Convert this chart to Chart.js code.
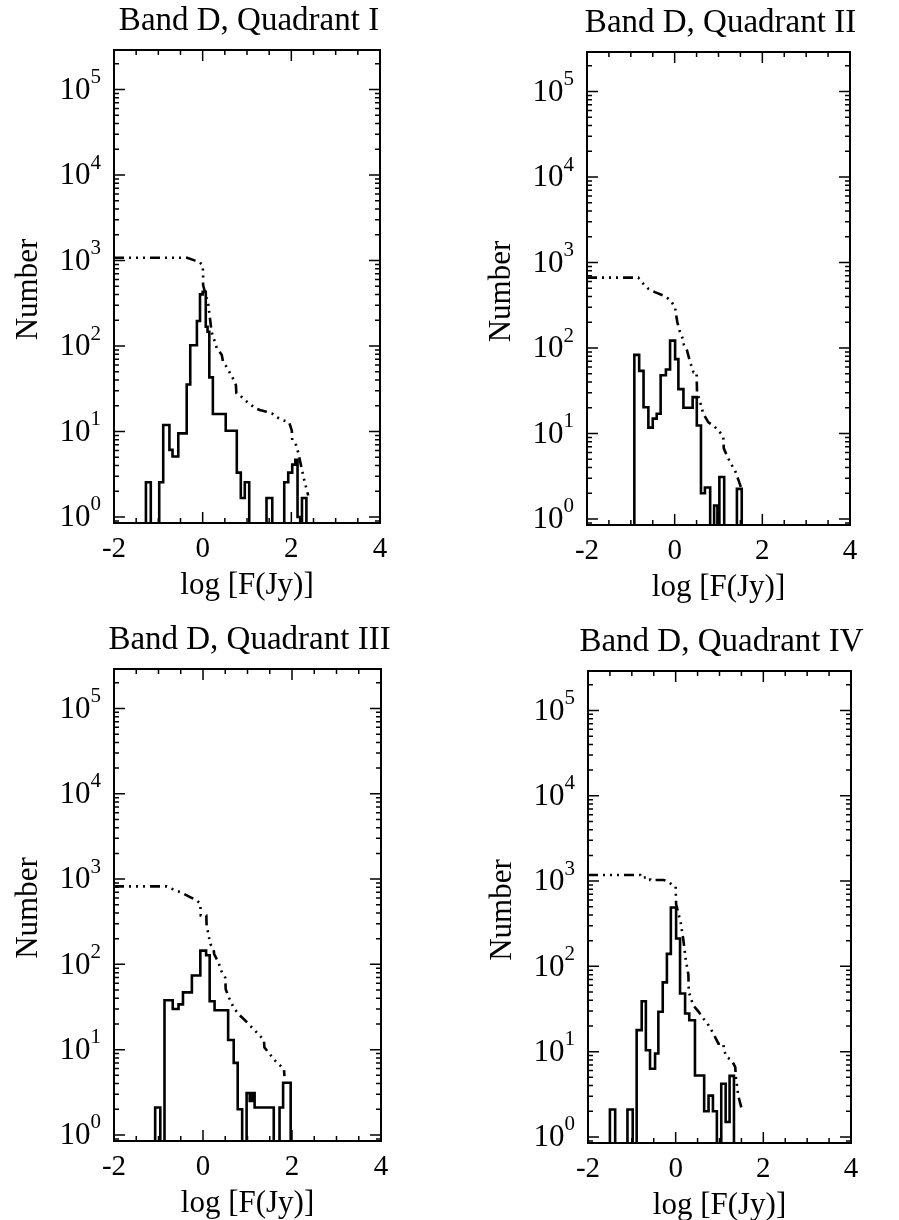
<!DOCTYPE html>
<html lang="en">
<head>
<meta charset="UTF-8" />
<title>Band D quadrants</title>
<script src="https://cdn.jsdelivr.net/npm/chart.js"></script>
<style>
  body { margin: 0; background: #fff; }
  #page { position: relative; width: 899px; height: 1220px; }
  #page canvas { position: absolute; left: 0; top: 0; }
</style>
</head>
<body>
<div id="page">
  <canvas id="q1" width="899" height="1220"></canvas>
  <canvas id="q2" width="899" height="1220"></canvas>
  <canvas id="q3" width="899" height="1220"></canvas>
  <canvas id="q4" width="899" height="1220"></canvas>
</div>

<script>
// empty bins: below the axis floor, so the step falls onto the frame
var EMPTY = 0.5;

var xTickLabels = [-2, 0, 2, 4];
var yDecades = [0, 1, 2, 3, 4, 5];
var titles = ["Band D, Quadrant I", "Band D, Quadrant II", "Band D, Quadrant III", "Band D, Quadrant IV"];

// Quadrant I
var q1BinX = [-2.0, -1.28, -1.17, -0.98, -0.89, -0.75, -0.68, -0.55, -0.36, -0.28, -0.13, -0.06, 0.0, 0.07, 0.11, 0.15, 0.23, 0.52, 0.77, 0.86, 0.95, 1.05, 1.44, 1.57, 1.84, 1.93, 2.02, 2.09, 2.14, 2.20, 2.24, 2.34, 4.0];
var q1Count = [EMPTY, 2.55, EMPTY, 2.55, 11.9, 6.1, 5.1, 9.5, 35.5, 102, 196, 402, 430, 168, 147, 43, 16, 10.2, 3.3, 1.67, 2.55, EMPTY, 1.67, EMPTY, 2.55, 3.3, 4.1, 4.66, 1.0, EMPTY, 1.67, EMPTY, EMPTY];
var q1CumX = [-2.0, -0.35, -0.2, -0.08, 0.0, 0.01, 0.01, 0.13, 0.2, 0.26, 0.32, 0.43, 0.46, 0.54, 0.62, 0.68, 0.75, 0.76, 0.84, 0.95, 1.07, 1.18, 1.29, 1.44, 1.56, 1.67, 1.82, 1.95, 2.01, 2.02, 2.11, 2.16, 2.27, 2.35, 2.38];
var q1Cum = [1075, 1075, 1010, 965, 882, 705, 515, 300, 147, 118, 94, 79, 65, 57, 48, 42, 35, 28, 26.6, 23.3, 20.9, 18.8, 17.8, 17, 16.3, 14.7, 13.5, 12.8, 10.3, 7.9, 6.9, 5.55, 3.0, 2.06, 1.78];

// Quadrant II
var q2BinX = [-2.0, -0.92, -0.81, -0.71, -0.60, -0.50, -0.41, -0.32, -0.20, -0.105, 0.01, 0.085, 0.20, 0.41, 0.505, 0.60, 0.69, 0.81, 0.90, 0.975, 1.02, 1.13, 1.42, 1.53, 4.0];
var q2Count = [EMPTY, 83, 54, 20.3, 11.7, 14.9, 17, 48, 56, 122, 74, 33, 20, 26.6, 12.4, 2.0, 2.33, EMPTY, 1.44, EMPTY, 3.1, EMPTY, 2.25, EMPTY, EMPTY];
var q2CumX = [-2.0, -0.83, -0.75, -0.60, -0.45, -0.26, -0.14, -0.07, 0.01, 0.03, 0.06, 0.11, 0.20, 0.21, 0.28, 0.35, 0.43, 0.50, 0.51, 0.58, 0.655, 0.77, 0.88, 1.0, 1.11, 1.12, 1.19, 1.26, 1.38, 1.45, 1.53];
var q2Cum = [666, 666, 590, 493, 450, 412, 376, 344, 300, 251, 201, 160, 123, 108, 94, 69, 52, 52, 30.5, 23.3, 16.9, 13.5, 12.4, 10.9, 9.1, 6.7, 5.55, 4.66, 3.66, 2.9, 2.2];

// Quadrant III
var q3BinX = [-2.0, -1.075, -0.96, -0.865, -0.68, -0.55, -0.45, -0.25, -0.06, 0.07, 0.15, 0.26, 0.565, 0.69, 0.78, 0.88, 0.98, 1.05, 1.105, 1.16, 1.59, 1.72, 1.80, 1.97, 4.0];
var q3Count = [EMPTY, 2.1, EMPTY, 38, 30, 34, 47, 74, 145, 128, 37, 29, 13, 7.0, 2.0, EMPTY, 3.1, 2.5, 3.1, 2.1, EMPTY, 2.1, 4.1, EMPTY, EMPTY];
var q3CumX = [-2.0, -0.81, -0.70, -0.51, -0.29, -0.135, -0.06, -0.05, 0.075, 0.08, 0.105, 0.165, 0.24, 0.25, 0.35, 0.41, 0.50, 0.51, 0.58, 0.69, 0.80, 0.92, 1.03, 1.14, 1.255, 1.37, 1.38, 1.48, 1.59, 1.71, 1.82, 1.83];
var q3Cum = [820, 820, 769, 703, 614, 561, 512, 374, 374, 295, 249, 173, 151, 132, 105, 84, 70, 51, 41, 31, 26, 22.7, 19.9, 17.3, 15.1, 12.8, 10.6, 9.2, 7.7, 6.7, 5.9, 4.9];

// Quadrant IV
var q4BinX = [-2.0, -1.50, -1.38, -1.10, -0.98, -0.89, -0.775, -0.68, -0.585, -0.47, -0.395, -0.295, -0.20, -0.11, 0.01, 0.10, 0.215, 0.31, 0.44, 0.65, 0.75, 0.85, 0.94, 1.04, 1.14, 1.23, 1.33, 4.0];
var q4Count = [EMPTY, 2.1, EMPTY, 2.1, EMPTY, 17.9, 39, 10.4, 6.3, 9.5, 29.4, 65, 140, 490, 212, 48, 28, 23.4, 5.25, 2.0, 3.05, 2.0, EMPTY, 4.2, 1.5, 5.2, EMPTY, EMPTY];
var q4CumX = [-2.0, -0.81, -0.80, -0.585, -0.58, -0.28, -0.20, -0.09, 0.0, 0.01, 0.115, 0.175, 0.23, 0.29, 0.30, 0.40, 0.52, 0.63, 0.75, 0.86, 0.975, 1.09, 1.10, 1.17, 1.28, 1.36, 1.37, 1.43, 1.51];
var q4Cum = [1180, 1180, 1100, 1100, 1030, 1030, 1000, 915, 860, 535, 325, 205, 120, 80, 50, 35, 29.5, 24.5, 20.4, 16.3, 12.4, 12.4, 10.4, 8.6, 7.9, 6.6, 5.2, 3.0, 2.1];

var SERIF = '"Liberation Serif", "DejaVu Serif", serif';

function pts(xs, ys) {
  return xs.map(function (x, i) { return { x: x, y: ys[i] }; });
}

// frame, inward ticks and all the labels, IDL style
var idlFrame = {
  id: "idlFrame",
  afterDatasetsDraw: function (chart, args, opts) {
    var ctx = chart.ctx, a = chart.chartArea;
    var xs = chart.scales.x, ys = chart.scales.y;
    ctx.save();
    ctx.strokeStyle = "#000";
    ctx.fillStyle = "#000";

    ctx.lineWidth = 1.5;
    ctx.beginPath();
    for (var v = -2; v <= 4.001; v += 0.5) {
      var px = xs.getPixelForValue(v);
      var len = xTickLabels.indexOf(v) >= 0 ? 11 : 5;
      ctx.moveTo(px, a.bottom); ctx.lineTo(px, a.bottom - len);
      ctx.moveTo(px, a.top); ctx.lineTo(px, a.top + len);
    }
    for (var d = -1; d <= 5; d++) {
      for (var m = 1; m <= 9; m++) {
        var val = m * Math.pow(10, d);
        if (val < ys.min || val > ys.max) continue;
        var py = ys.getPixelForValue(val);
        var l = m === 1 ? 11 : 5;
        ctx.moveTo(a.left, py); ctx.lineTo(a.left + l, py);
        ctx.moveTo(a.right, py); ctx.lineTo(a.right - l, py);
      }
    }
    ctx.stroke();

    ctx.lineWidth = 2;
    ctx.strokeRect(a.left, a.top, a.right - a.left, a.bottom - a.top);

    // x tick labels
    ctx.font = "29px " + SERIF;
    ctx.textAlign = "center";
    ctx.textBaseline = "middle";
    xTickLabels.forEach(function (t) {
      ctx.fillText(String(t), xs.getPixelForValue(t), a.bottom + 26);
    });

    // y tick labels 10^n
    yDecades.forEach(function (n) {
      var py = ys.getPixelForValue(Math.pow(10, n));
      var right = a.left - 13;
      ctx.font = "21px " + SERIF;
      var ew = ctx.measureText(String(n)).width;
      ctx.textAlign = "left";
      ctx.fillText(String(n), right - ew, py - 12);
      ctx.font = "31px " + SERIF;
      ctx.textAlign = "right";
      ctx.fillText("10", right - ew, py + 1);
    });

    // axis titles
    ctx.font = "31px " + SERIF;
    ctx.textAlign = "center";
    ctx.fillText("log [F(Jy)]", (a.left + a.right) / 2, a.bottom + 63);
    ctx.save();
    ctx.translate(a.left - 85, (a.top + a.bottom) / 2 + 3);
    ctx.rotate(-Math.PI / 2);
    ctx.fillText("Number", 0, 0);
    ctx.restore();

    // panel title
    ctx.font = "33px " + SERIF;
    ctx.fillText(opts.title, (a.left + a.right) / 2 + 2, a.top - 29);
    ctx.restore();
  }
};

var panels = [
  { id: "q1", box: [114, 50, 380, 523], binX: q1BinX, count: q1Count, cumX: q1CumX, cum: q1Cum },
  { id: "q2", box: [587, 52, 850, 525], binX: q2BinX, count: q2Count, cumX: q2CumX, cum: q2Cum },
  { id: "q3", box: [114, 669, 381, 1141], binX: q3BinX, count: q3Count, cumX: q3CumX, cum: q3Cum },
  { id: "q4", box: [588, 671, 851, 1143], binX: q4BinX, count: q4Count, cumX: q4CumX, cum: q4Cum }
];

panels.forEach(function (p, i) {
  var b = p.box;
  new Chart(document.getElementById(p.id), {
    type: "line",
    data: {
      datasets: [
        {
          label: "histogram",
          data: pts(p.binX, p.count),
          stepped: "before",
          borderColor: "#000",
          borderWidth: 2.6,
          pointRadius: 0,
          fill: false
        },
        {
          label: "cumulative",
          data: pts(p.cumX, p.cum),
          borderColor: "#000",
          borderWidth: 2.6,
          borderDash: [10, 5, 2, 5, 2, 5, 2, 5],
          pointRadius: 0,
          tension: 0,
          fill: false
        }
      ]
    },
    options: {
      responsive: false,
      animation: false,
      devicePixelRatio: 1,
      layout: { padding: { left: b[0], top: b[1], right: 899 - b[2], bottom: 1220 - b[3] } },
      scales: {
        x: { type: "linear", min: -2, max: 4, display: false },
        y: { type: "logarithmic", min: 0.85, max: 2.9e5, display: false }
      },
      plugins: {
        legend: { display: false },
        tooltip: { enabled: false },
        idlFrame: { title: titles[i] }
      }
    },
    plugins: [idlFrame]
  });
});
</script>
</body>
</html>
